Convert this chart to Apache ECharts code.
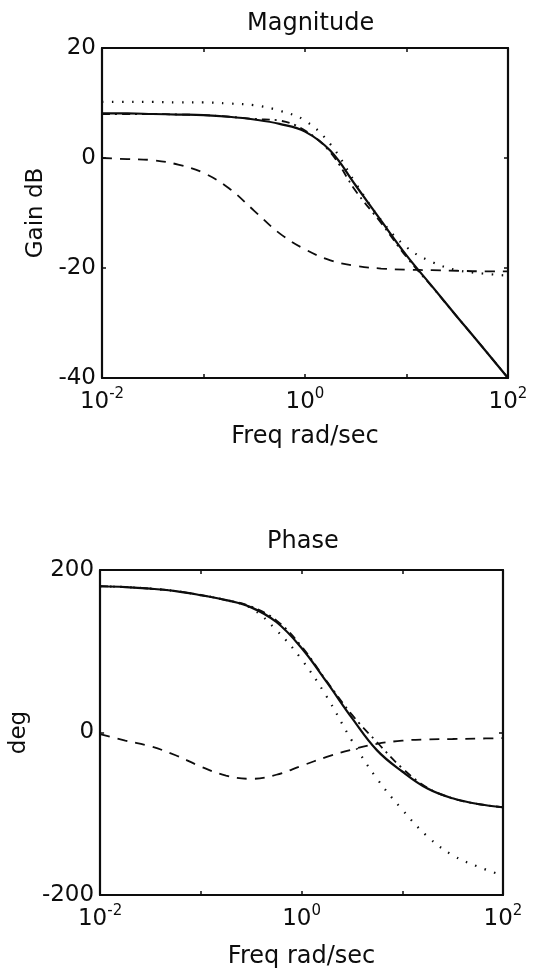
<!DOCTYPE html>
<html>
<head>
<meta charset="utf-8">
<script src="https://cdn.jsdelivr.net/npm/echarts@6/dist/echarts.min.js"></script>
<style>
  html, body { margin: 0; padding: 0; background: #fff; }
  #chart { width: 533px; height: 972px; }
</style>
</head>
<body>
<div id="chart"></div>
<script>
// frequencies, quarter-decade steps, rad/sec
const freq = [0.01, 0.0178, 0.0316, 0.0562, 0.1, 0.178, 0.316, 0.562, 1, 1.78, 3.16, 5.62, 10, 17.8, 31.6, 56.2, 100];

// gain dB
const magSolid   = [8.1, 8.1, 8.0, 7.9, 7.8, 7.5, 7.0, 6.2, 4.8, 1.3, -5.0, -11.4, -17.7, -23.3, -28.9, -34.4, -40];
const magDotted  = [10.2, 10.2, 10.2, 10.1, 10.1, 9.9, 9.6, 8.6, 6.8, 2.5, -4.6, -11.3, -16.2, -18.9, -20.4, -21.0, -21.4];
const magDashed  = [0, -0.2, -0.4, -1.2, -2.7, -5.5, -9.6, -13.7, -16.6, -18.6, -19.6, -20.1, -20.3, -20.4, -20.5, -20.6, -20.6];
const magDashDot = [8.0, 8.0, 8.0, 7.9, 7.8, 7.5, 7.1, 6.8, 5.0, 1.0, -6.0, -11.8, -18.0, -23.4, -28.9, -34.4, -40];

// phase deg
const phSolid   = [180, 179, 177, 174, 169, 163, 154, 136, 104, 62, 18, -22, -48, -69, -81, -88, -92];
const phDotted  = [180, 179, 177, 174, 169, 163, 153, 126, 90, 44, -10, -57, -95, -128, -151, -165, -176];
const phDashed  = [-2, -10, -17, -28, -42, -53, -57, -52, -41, -30, -21, -14, -10, -8.5, -8, -7.5, -7];
const phDashDot = [180, 179, 177, 174, 169, 163, 155, 138, 106, 63, 22, -12, -44, -68, -81, -88, -92];

const magTicks = [-40, 20, 20];    // min, max, interval
const phTicks = [-200, 200, 200];

const FONT = 'DejaVu Sans';
const INK = '#0d0d0d';

function pairs(ys) {
    return freq.map((f, i) => [f, ys[i]]);
}

function freqLabel(v) {
    const e = Math.round(Math.log10(v));
    if (e % 2 !== 0) return '';
    return '10{sup|' + e + '}';
}

function xAxes(grid, gap) {
    return [
        {
            gridIndex: grid, type: 'log', logBase: 10, min: 0.01, max: 100, position: 'bottom',
            name: 'Freq rad/sec', nameLocation: 'middle', nameGap: gap,
            nameTextStyle: { fontFamily: FONT, fontSize: 24, color: INK },
            axisLine: { onZero: false, lineStyle: { color: INK, width: 2.2 } },
            axisTick: { inside: true, length: 4, lineStyle: { color: INK, width: 1.5 } },
            minorTick: { show: false },
            splitLine: { show: false },
            axisLabel: {
                formatter: freqLabel, margin: 9, fontFamily: FONT, fontSize: 23, color: INK, lineHeight: 30,
                rich: { sup: { fontFamily: FONT, fontSize: 15, color: INK, lineHeight: 15, verticalAlign: 'top' } }
            }
        },
        {
            gridIndex: grid, type: 'log', logBase: 10, min: 0.01, max: 100, position: 'top',
            axisLine: { onZero: false, lineStyle: { color: INK, width: 2.2 } },
            axisTick: { inside: true, length: 4, lineStyle: { color: INK, width: 1.5 } },
            axisLabel: { show: false },
            splitLine: { show: false }
        }
    ];
}

function yAxes(grid, t, name, gap) {
    return [
        {
            gridIndex: grid, type: 'value', min: t[0], max: t[1], interval: t[2], position: 'left',
            name: name, nameLocation: 'middle', nameGap: gap, nameRotate: 90,
            nameTextStyle: { fontFamily: FONT, fontSize: 23, color: INK },
            axisLine: { show: true, onZero: false, lineStyle: { color: INK, width: 2.2 } },
            axisTick: { show: true, inside: true, length: 4, lineStyle: { color: INK, width: 1.5 } },
            splitLine: { show: false },
            axisLabel: { margin: 6, fontFamily: FONT, fontSize: 23, color: INK }
        },
        {
            gridIndex: grid, type: 'value', min: t[0], max: t[1], interval: t[2], position: 'right',
            axisLine: { show: true, onZero: false, lineStyle: { color: INK, width: 2.2 } },
            axisTick: { show: true, inside: true, length: 4, lineStyle: { color: INK, width: 1.5 } },
            splitLine: { show: false },
            axisLabel: { show: false }
        }
    ];
}

function line(name, grid, ys, type, width) {
    return {
        name: name, type: 'line', xAxisIndex: grid * 2, yAxisIndex: grid * 2,
        data: pairs(ys), smooth: 0.4, symbol: 'none', silent: true,
        lineStyle: { color: INK, width: width, type: type }
    };
}

const chart = echarts.init(document.getElementById('chart'), null, { renderer: 'canvas' });
chart.setOption({
    animation: false,
    backgroundColor: '#fff',
    title: [
        { text: 'Magnitude', left: 242, top: 7, textStyle: { fontFamily: FONT, fontSize: 24, fontWeight: 'normal', color: INK } },
        { text: 'Phase', left: 262, top: 525, textStyle: { fontFamily: FONT, fontSize: 24, fontWeight: 'normal', color: INK } }
    ],
    grid: [
        { left: 102, top: 48, width: 406, height: 330 },
        { left: 97, top: 570, width: 406, height: 325 }
    ],
    xAxis: xAxes(0, 47).concat(xAxes(1, 50)),
    yAxis: yAxes(0, magTicks, 'Gain dB', 49).concat(yAxes(1, phTicks, 'deg', 57)),
    series: [
        line('mag solid', 0, magSolid, 'solid', 2.2),
        line('mag dotted', 0, magDotted, [1.5, 8.5], 2.2),
        line('mag dashed', 0, magDashed, [10, 8], 1.8),
        line('mag dashdot', 0, magDashDot, [8, 5, 2, 5], 1.8),
        line('phase solid', 1, phSolid, 'solid', 2.2),
        line('phase dotted', 1, phDotted, [1.5, 8.5], 2.2),
        line('phase dashed', 1, phDashed, [10, 8], 1.8),
        line('phase dashdot', 1, phDashDot, [8, 5, 2, 5], 1.8)
    ]
});
</script>
</body>
</html>
